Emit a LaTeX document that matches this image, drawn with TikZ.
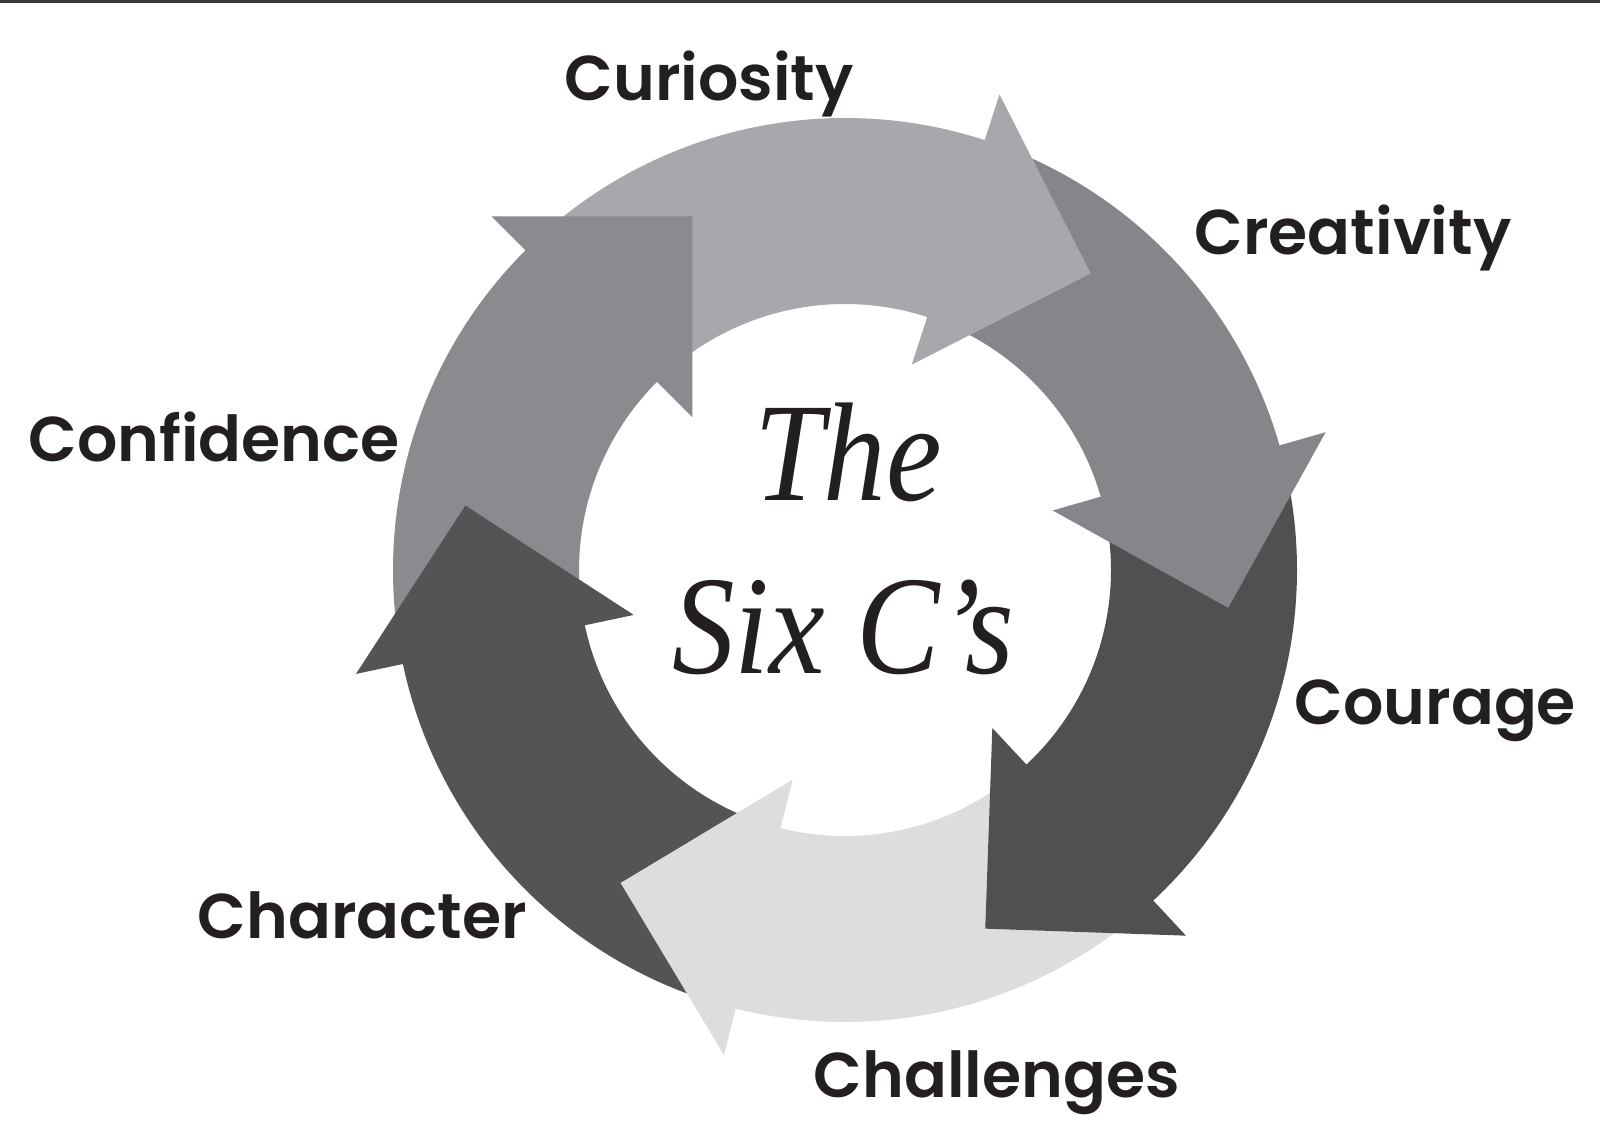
\documentclass[tikz,border=0pt]{standalone}
\usepackage{fontspec}
\setsansfont{Poppins}[BoldFont={Poppins SemiBold}]
\newfontfamily\titlefont{Liberation Serif}
\usepackage{tikz}
\definecolor{curioFill}{HTML}{A7A8AB}
\definecolor{creatFill}{HTML}{85868A}
\definecolor{courFill}{HTML}{505052}
\definecolor{challFill}{HTML}{DCDDDF}
\definecolor{charFill}{HTML}{545456}
\definecolor{confFill}{HTML}{8A8B8F}
\definecolor{inkDark}{HTML}{231F20}
\definecolor{topBar}{HTML}{3A3A3C}
% ring body: colour, tail angle, head angle
\newcommand{\ringbody}[3]{\fill[#1] ({#2-1.5}:266) arc[start angle=#2-1.5, end angle=#3-3, radius=266] -- ({#3-3}:452) arc[start angle=#3-3, end angle=#2-1.5, radius=452] -- cycle;}
% ring head: colour, head angle
\newcommand{\ringhead}[2]{\fill[#1] (#2:500) -- ({#2-21.64}:385.1) -- (#2:216) -- cycle;}

\begin{document}
\begin{tikzpicture}[x=0.01cm, y=0.01cm, lbl/.style={font=\fontsize{18}{22}\selectfont\sffamily\bfseries, text=inkDark, anchor=base west, inner sep=0pt},title/.style={font=\fontsize{40}{44}\selectfont\titlefont\itshape, text=inkDark, anchor=base, inner sep=0pt, xscale=0.89, transform shape}]
\useasboundingbox (0,0) rectangle (1600,1126);
\fill[topBar] (0,1122.5) rectangle (1600,1126);
\coordinate (ctr) at (845,556);
\begin{scope}[shift={(ctr)}]
\ringbody{curioFill}{135}{72}
\ringbody{creatFill}{72}{16}
\ringbody{courFill}{16}{-47}
\ringbody{challFill}{-47}{-104}
\ringbody{charFill}{-104}{-168}
\ringbody{confFill}{192}{135}
\ringhead{curioFill}{72}
\ringhead{creatFill}{16}
\ringhead{courFill}{-47}
\ringhead{challFill}{-104}
\ringhead{charFill}{-168}
\ringhead{confFill}{135}
\end{scope}
\node[title] (the) at (848,626) {The};
\node[title] (sixcs) at (843,453) {Six C’s};
\node[lbl] (curio) at (564,1025) {Curiosity};
\node[lbl] (creat) at (1194,872) {Creativity};
\node[lbl] (conf) at (28,665) {Confidence};
\node[lbl] (cour) at (1294,402) {Courage};
\node[lbl] (chara) at (197,188) {Character};
\node[lbl] (chall) at (813,29) {Challenges};
\end{tikzpicture}
\end{document}
